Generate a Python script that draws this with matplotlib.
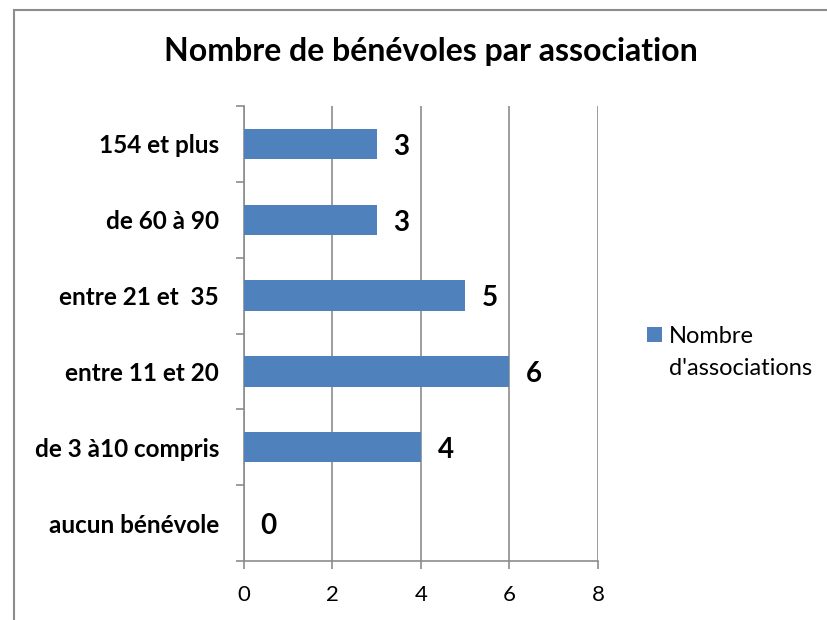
import matplotlib.pyplot as plt
from matplotlib.patches import Rectangle
from matplotlib.legend_handler import HandlerPatch

categories = ['aucun bénévole', 'de 3 à10 compris', 'entre 11 et 20',
              'entre 21 et  35', 'de 60 à 90', '154 et plus']
values = [0, 4, 6, 5, 3, 3]
series_name = "Nombre\nd'associations"
title = 'Nombre de bénévoles par association'

plt.rcParams['font.family'] = ['Lato', 'DejaVu Sans']

fig = plt.figure(figsize=(8.27, 6.2), dpi=100)
ax = fig.add_axes([0.295, 0.095, 0.428, 0.734])

# cadre gris autour du graphique
fig.patches.append(Rectangle((14 / 827, -0.05), 1.2, 1 - 9.5 / 620 + 0.05,
                             transform=fig.transFigure, fill=False,
                             edgecolor='#8c8c8c', linewidth=1.5))

pos = list(range(len(categories)))
bars = ax.barh(pos, values, height=0.4, color='#4F81BD', label=series_name, zorder=3)

for p, v in zip(pos, values):
    ax.annotate(str(v), (v, p), xytext=(12, -2), textcoords='offset points',
                ha='left', va='center', fontsize=20, fontweight='bold')

ax.set_xlim(0, 8)
ax.set_xticks([0, 2, 4, 6, 8])
ax.set_ylim(-0.5, 5.5)
ax.set_yticks(pos)
ax.set_yticklabels(categories, fontsize=17.5, fontweight='bold')
ax.set_yticks([i - 0.5 for i in range(len(categories) + 1)], minor=True)
ax.tick_params(axis='y', which='major', length=0, pad=18)
ax.tick_params(axis='y', which='minor', length=6, color='#8c8c8c', width=1.2)
ax.tick_params(axis='x', length=6, color='#8c8c8c', width=1.2, labelsize=16, pad=11)

ax.grid(axis='x', color='#8c8c8c', linewidth=1.2, zorder=0)
for s in ['top', 'right']:
    ax.spines[s].set_visible(False)
for s in ['left', 'bottom']:
    ax.spines[s].set_color('#8c8c8c')
    ax.spines[s].set_linewidth(1.2)

fig.text(0.521, 0.917, title, ha='center', va='center', fontsize=23, fontweight='bold')


# carré de légende aligné sur la première ligne du texte
def square_top(legend, orig_handle, xdescent, ydescent, width, height, fontsize):
    return Rectangle((-xdescent, 13.0), 10.8, 10.8)


handle = bars.patches[0]
leg = fig.legend(handles=[handle], labels=[series_name], loc='upper left',
                 bbox_to_anchor=(0.782, 0.475), frameon=False, fontsize=17,
                 handlelength=0.635, handleheight=0.7, handletextpad=0.3,
                 borderaxespad=0, borderpad=0,
                 handler_map={handle: HandlerPatch(patch_func=square_top)})
leg.get_texts()[0].set_linespacing(1.65)

fig.savefig('out.png', dpi=100)
